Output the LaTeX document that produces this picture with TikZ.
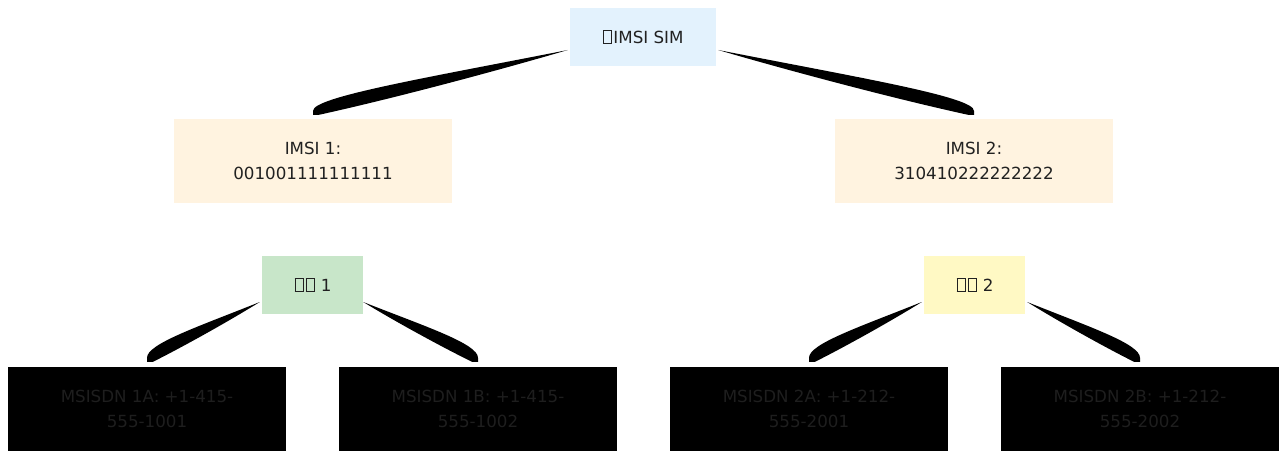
\documentclass[tikz,border=0pt]{standalone}
\usepackage{fontspec}
\setmainfont{DejaVu Sans}
\usetikzlibrary{calc}
\definecolor{topfill}{HTML}{E3F2FD}
\definecolor{imsifill}{HTML}{FFF3E0}
\definecolor{greenfill}{HTML}{C8E6C9}
\definecolor{yellowfill}{HTML}{FFF9C4}
\definecolor{txt}{HTML}{212121}
\definecolor{darktxt}{HTML}{1E1E1E}
\newcommand\tofu{\kern.06em{\setlength\fboxsep{0pt}\setlength\fboxrule{.06em}\fbox{\rule{0pt}{.72em}\rule{.42em}{0pt}}}\kern.06em}
\newcommand\wedgeleft[2]{\fill[wedge] (#2) -- ++(6,0) .. controls ($(#2)!0.3!(#1)+(0,4)$) and ($(#2)!0.7!(#1)+(0,3)$) .. (#1) .. controls ($(#2)!0.45!(#1)+(0,-8)$) and ($(#2)+(0,-18)$) .. ($(#2)+(0,-4)$) -- cycle;}
\newcommand\wedgeright[2]{\fill[wedge] (#2) -- ++(-6,0) .. controls ($(#2)!0.3!(#1)+(0,4)$) and ($(#2)!0.7!(#1)+(0,3)$) .. (#1) .. controls ($(#2)!0.45!(#1)+(0,-8)$) and ($(#2)+(0,-18)$) .. ($(#2)+(0,-4)$) -- cycle;}
\begin{document}
\begin{tikzpicture}[x=1pt,y=-1pt,
  box/.style={draw=none,inner sep=0pt,align=center,text=txt,
    font=\fontsize{16.7}{24.2}\selectfont},
  topbox/.style={box,fill=topfill,minimum width=146,minimum height=58},
  imsibox/.style={box,fill=imsifill,minimum width=278,minimum height=84},
  smallbox/.style={box,minimum width=101,minimum height=58},
  numbox/.style={box,fill=black,text=darktxt,minimum width=278,minimum height=84},
  wedge/.style={fill=black}]
\useasboundingbox (0,0) rectangle (1279,452);
\fill[white] (0,0) rectangle (1279,452);
\node[topbox] (top) at (643,37) {\tofu IMSI SIM};
\node[imsibox] (imsi1) at (313,161) {IMSI 1:\\001001111111111};
\node[imsibox] (imsi2) at (974,161) {IMSI 2:\\310410222222222};
\node[smallbox,fill=greenfill] (u1) at (312.5,285) {\tofu\tofu{} 1};
\node[smallbox,fill=yellowfill] (u2) at (974.5,285) {\tofu\tofu{} 2};
\node[numbox] (m1a) at (147,409) {MSISDN 1A: +1-415-\\555-1001};
\node[numbox] (m1b) at (478,409) {MSISDN 1B: +1-415-\\555-1002};
\node[numbox] (m2a) at (809,409) {MSISDN 2A: +1-212-\\555-2001};
\node[numbox] (m2b) at (1140,409) {MSISDN 2B: +1-212-\\555-2002};
% connector end points
\coordinate (pt1) at ($(top.west)+(-2,13)$);
\coordinate (pt2) at ($(top.east)+(2,13)$);
\coordinate (ci1) at ($(imsi1.north)+(0,-4)$);
\coordinate (ci2) at ($(imsi2.north)+(0,-4)$);
\coordinate (pu1l) at ($(u1.west)+(-2,17)$);
\coordinate (pu1r) at ($(u1.east)+(0,17)$);
\coordinate (pu2l) at ($(u2.west)+(-2,17)$);
\coordinate (pu2r) at ($(u2.east)+(2,17)$);
\coordinate (c1a) at ($(m1a.north)+(0,-5)$);
\coordinate (c1b) at ($(m1b.north)+(0,-5)$);
\coordinate (c2a) at ($(m2a.north)+(0,-5)$);
\coordinate (c2b) at ($(m2b.north)+(0,-5)$);
\wedgeleft{pt1}{ci1}
\wedgeright{pt2}{ci2}
\wedgeleft{pu1l}{c1a}
\wedgeright{pu1r}{c1b}
\wedgeleft{pu2l}{c2a}
\wedgeright{pu2r}{c2b}
\end{tikzpicture}
\end{document}
